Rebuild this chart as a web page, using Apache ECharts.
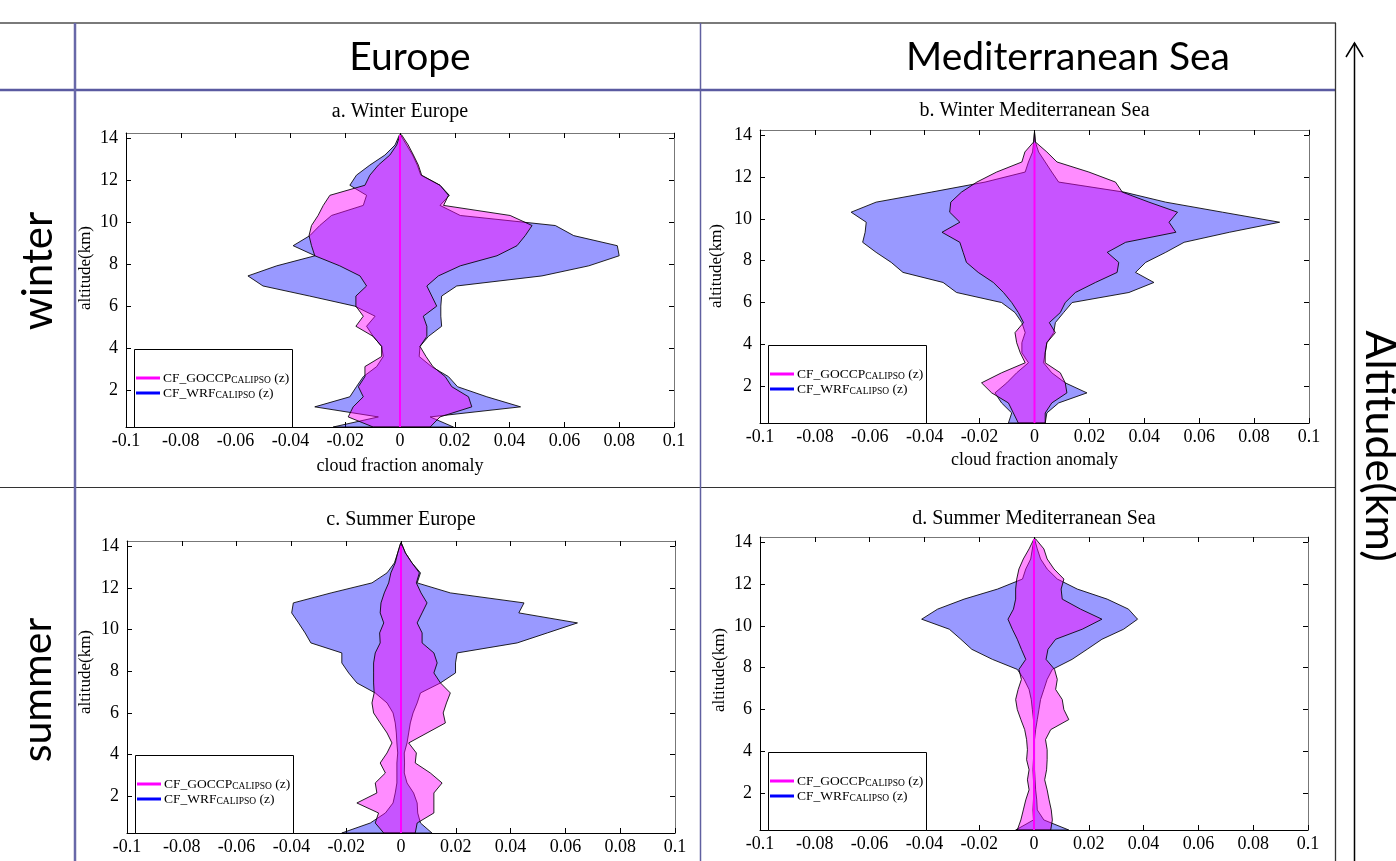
<!DOCTYPE html>
<html>
<head>
<meta charset="utf-8">
<script src="https://cdn.jsdelivr.net/npm/echarts@6/dist/echarts.min.js"></script>
<style>
html,body{margin:0;padding:0;background:#ffffff;}
#chart{width:1396px;height:861px;}
</style>
</head>
<body>
<div id="chart"></div>
<script>
// ---------- labels ----------
const columnHeaders = ['Europe', 'Mediterranean Sea'];
const rowHeaders = ['winter', 'summer'];
const sideLabel = 'Altitude(km)';
const panelTitles = ['a. Winter Europe', 'b. Winter Mediterranean Sea', 'c. Summer Europe', 'd. Summer Mediterranean Sea'];
const xAxisName = 'cloud fraction anomaly';
const yAxisName = 'altitude(km)';
const seriesNames = ['CF_GOCCP', 'CF_WRF'];
const yTickValues = [2, 4, 6, 8, 10, 12, 14];

// ---------- altitude levels (km), bottom to top ----------
const altitude = [0.24, 0.72, 1.20, 1.68, 2.16, 2.64, 3.12, 3.60, 4.08, 4.56, 5.04, 5.52, 6.00, 6.48, 6.96,
  7.44, 7.92, 8.40, 8.88, 9.36, 9.84, 10.32, 10.80, 11.28, 11.76, 12.24, 12.72, 13.20, 13.68, 14.16];

// ---------- a. Winter Europe ----------
const aWrfLeft = [-0.0244, -0.0079, -0.0311, -0.0183, -0.0159, -0.0134, -0.0085, -0.0061, -0.0067, -0.0098, -0.0122, -0.0091, -0.0165, -0.033, -0.05,
  -0.0555, -0.045, -0.031, -0.039, -0.0329, -0.0293, -0.025, -0.0134, -0.0122, -0.0183, -0.0159, -0.011, -0.0055, -0.0018, -0.0002];
const aWrfRight = [0.0195, 0.011, 0.044, 0.0317, 0.021, 0.0177, 0.0115, 0.007, 0.0073, 0.0104, 0.0152, 0.0149, 0.0149, 0.0152, 0.0207,
  0.0518, 0.0689, 0.080, 0.0793, 0.0634, 0.0567, 0.022, 0.0146, 0.018, 0.0146, 0.0076, 0.0063, 0.0046, 0.0024, 0.0002];
const aGoccpLeft = [-0.0098, -0.0189, -0.0171, -0.0134, -0.0152, -0.0128, -0.0128, -0.0067, -0.0067, -0.0098, -0.0161, -0.0134, -0.0161, -0.0161, -0.0122,
  -0.0146, -0.022, -0.0311, -0.0323, -0.0332, -0.0323, -0.0299, -0.028, -0.0256, -0.0128, -0.011, -0.0079, -0.0037, -0.0012, 0];
const aGoccpRight = [0.011, 0.0146, 0.0262, 0.025, 0.0189, 0.0165, 0.012, 0.0095, 0.0073, 0.0098, 0.0098, 0.0085, 0.0134, 0.0116, 0.0098,
  0.014, 0.022, 0.0354, 0.0427, 0.0457, 0.0482, 0.0402, 0.0159, 0.0177, 0.0146, 0.0079, 0.0067, 0.0049, 0.003, 0.0006];

// ---------- b. Winter Mediterranean Sea ----------
const bWrfLeft = [-0.0095, -0.0083, -0.012, -0.0144, -0.0101, -0.0065, -0.0022, -0.0046, -0.0046, -0.0034, -0.0046, -0.0071, -0.012, -0.0284, -0.0333,
  -0.0479, -0.0522, -0.0577, -0.0626, -0.0617, -0.0613, -0.0668, -0.0577, -0.0376, -0.018, -0.0034, -0.0022, -0.0007, -0.0003, 0];
const bWrfRight = [0.0039, 0.0045, 0.0088, 0.0191, 0.0112, 0.0063, 0.0033, 0.0039, 0.0045, 0.007, 0.0076, 0.0106, 0.0137, 0.0344, 0.0435,
  0.0368, 0.0405, 0.0478, 0.0545, 0.071, 0.0893, 0.0685, 0.0478, 0.0326, 0.0088, 0.0063, 0.0039, 0.0015, 0.0003, 0];
const bGoccpLeft = [-0.0059, -0.0077, -0.0095, -0.0156, -0.0193, -0.012, -0.0034, -0.0052, -0.0065, -0.0071, -0.004, -0.0059, -0.0083, -0.0113, -0.015,
  -0.0205, -0.0248, -0.026, -0.0272, -0.0337, -0.0272, -0.0309, -0.0305, -0.0266, -0.021, -0.0138, -0.0046, -0.0035, -0.0003, 0];
const bGoccpRight = [0.0039, 0.0039, 0.0063, 0.0118, 0.0112, 0.0094, 0.0039, 0.0039, 0.0045, 0.0076, 0.0054, 0.0094, 0.0112, 0.0149, 0.0222,
  0.0301, 0.0307, 0.0265, 0.0332, 0.0515, 0.049, 0.0521, 0.0417, 0.032, 0.0295, 0.0198, 0.0082, 0.0045, 0.0003, 0];

// ---------- c. Summer Europe ----------
const cWrfLeft = [-0.0216, -0.0112, -0.0057, -0.0029, -0.0021, -0.0015, -0.0015, -0.0015, -0.0012, -0.0015, -0.0017, -0.0021, -0.0029, -0.0051, -0.0094,
  -0.0161, -0.0191, -0.0216, -0.0216, -0.0329, -0.035, -0.0374, -0.0399, -0.0393, -0.0255, -0.0106, -0.0051, -0.0024, -0.0012, -0.0001];
const cWrfRight = [0.0113, 0.0071, 0.0061, 0.0059, 0.0046, 0.0022, 0.0012, 0.0013, 0.0012, 0.0022, 0.0028, 0.0034, 0.0044, 0.0059, 0.0071,
  0.0144, 0.0199, 0.0199, 0.0205, 0.0424, 0.0534, 0.0644, 0.043, 0.0449, 0.018, 0.0059, 0.0071, 0.004, 0.0016, 0.0001];
const cGoccpLeft = [-0.0063, -0.0094, -0.0082, -0.0161, -0.0088, -0.0094, -0.0057, -0.0076, -0.0051, -0.0033, -0.0051, -0.0076, -0.01, -0.0106, -0.0098,
  -0.01, -0.01, -0.01, -0.0094, -0.0076, -0.0078, -0.0063, -0.0076, -0.0073, -0.0061, -0.0045, -0.0037, -0.0021, -0.0012, -0.0001];
const cGoccpRight = [0.0052, 0.0059, 0.012, 0.012, 0.012, 0.015, 0.0107, 0.0052, 0.0056, 0.0028, 0.0095, 0.0162, 0.0154, 0.0166, 0.018,
  0.0144, 0.012, 0.0132, 0.012, 0.0077, 0.0077, 0.0059, 0.0077, 0.0095, 0.0073, 0.0056, 0.0067, 0.004, 0.0016, 0.0001];

// ---------- d. Summer Mediterranean Sea ----------
const dWrfLeft = [-0.0067, -0.0002, -0.0004, -0.0002, 0, -0.0002, -0.0004, -0.0002, 0, 0, 0, -0.0002, -0.0006, -0.001, -0.0018,
  -0.0036, -0.0061, -0.0152, -0.0227, -0.0267, -0.0309, -0.041, -0.0352, -0.0255, -0.0133, -0.0042, -0.003, -0.0012, -0.0006, 0];
const dWrfRight = [0.0127, 0.0036, 0.0012, 0.001, 0.0006, 0.0004, 0.0002, 0.0002, 0.0002, 0.0002, 0.0006, 0.0012, 0.0018, 0.0024, 0.0036,
  0.0048, 0.0067, 0.0139, 0.0194, 0.0248, 0.0327, 0.0378, 0.0345, 0.0267, 0.0158, 0.0085, 0.0048, 0.0024, 0.0012, 0.0002];
const dGoccpLeft = [-0.0061, -0.0048, -0.0039, -0.003, -0.0018, -0.0024, -0.0018, -0.0027, -0.0024, -0.0027, -0.0034, -0.0048, -0.0061, -0.0067, -0.0058,
  -0.0046, -0.0055, -0.003, -0.0046, -0.0061, -0.0079, -0.0095, -0.0075, -0.0067, -0.0067, -0.0063, -0.0055, -0.0039, -0.0018, 0];
const dGoccpRight = [0.0061, 0.0067, 0.0063, 0.0055, 0.0048, 0.0039, 0.0046, 0.0048, 0.0048, 0.0042, 0.0061, 0.0127, 0.0109, 0.0103, 0.0079,
  0.0085, 0.0075, 0.0044, 0.0051, 0.0079, 0.0176, 0.0248, 0.017, 0.0103, 0.0099, 0.0109, 0.0073, 0.0048, 0.0036, 0.0006];

// top of the magenta zero line in each panel (km)
const zeroLineTop = [14.16, 13.6, 14.0, 14.16];

const panelData = [
  { wrfL: aWrfLeft, wrfR: aWrfRight, gocL: aGoccpLeft, gocR: aGoccpRight },
  { wrfL: bWrfLeft, wrfR: bWrfRight, gocL: bGoccpLeft, gocR: bGoccpRight },
  { wrfL: cWrfLeft, wrfR: cWrfRight, gocL: cGoccpLeft, gocR: cGoccpRight },
  { wrfL: dWrfLeft, wrfR: dWrfRight, gocL: dGoccpLeft, gocR: dGoccpRight }
];

// ---------- layout ----------
const grids = [
  { left: 126, top: 133, width: 548, height: 294 },
  { left: 760, top: 130, width: 549, height: 293 },
  { left: 127, top: 541, width: 548, height: 292 },
  { left: 760, top: 537, width: 548, height: 293 }
];
const yNamePos = [[86, 268], [717, 266], [86, 672], [720, 670]];
const titleTop = [102, 101, 510, 509];
const serif = 'Liberation Serif';

const chart = echarts.init(document.getElementById('chart'), null, { renderer: 'canvas' });

const xAxes = [], yAxes = [], series = [], legends = [], titles = [], graphics = [];

function polygonSeries(name, k, left, right, fill, z) {
  const pts = [];
  for (let i = 0; i < altitude.length; i++) pts.push([right[i], altitude[i]]);
  for (let i = altitude.length - 1; i >= 0; i--) pts.push([left[i], altitude[i]]);
  return {
    type: 'custom', name: name, xAxisIndex: 2 * k, yAxisIndex: 2 * k, silent: true, z: z,
    data: pts, encode: { x: 0, y: 1 },
    renderItem: function (params, api) {
      if (params.dataIndex !== 0) return null;
      return {
        type: 'polygon',
        shape: { points: pts.map(function (p) { return api.coord(p); }) },
        style: { fill: fill, stroke: 'rgba(0,0,0,0.85)', lineWidth: 1, lineJoin: 'miter' }
      };
    }
  };
}

grids.forEach(function (g, k) {
  const showXName = k < 2;
  xAxes.push({
    gridIndex: k, type: 'value', position: 'bottom', min: -0.1, max: 0.1, interval: 0.02,
    axisLine: { onZero: false, lineStyle: { color: '#000', width: 1 } },
    axisTick: { inside: true, length: 5, lineStyle: { color: '#000', width: 1 } },
    axisLabel: { fontFamily: serif, fontSize: 18, color: '#000', margin: 5, showMinLabel: true, showMaxLabel: true },
    splitLine: { show: false },
    name: showXName ? xAxisName : '', nameLocation: 'middle', nameGap: k === 0 ? 30 : 28,
    nameTextStyle: { fontFamily: serif, fontSize: 18, color: '#000' }
  });
  xAxes.push({
    gridIndex: k, type: 'value', position: 'top', min: -0.1, max: 0.1, interval: 0.02,
    axisLine: { onZero: false, lineStyle: { color: '#777', width: 1 } },
    axisTick: { inside: true, length: 5, lineStyle: { color: '#000', width: 1 } },
    axisLabel: { show: false }, splitLine: { show: false }
  });
  yAxes.push({
    gridIndex: k, type: 'value', position: 'left', min: 0.24, max: 14.25,
    axisLine: { onZero: false, lineStyle: { color: '#000', width: 1 } },
    axisTick: { inside: true, length: 5, customValues: yTickValues, lineStyle: { color: '#000', width: 1 } },
    axisLabel: { customValues: yTickValues, fontFamily: serif, fontSize: 18, color: '#000', margin: 8 },
    splitLine: { show: false }
  });
  yAxes.push({
    gridIndex: k, type: 'value', position: 'right', min: 0.24, max: 14.25,
    axisLine: { onZero: false, lineStyle: { color: '#777', width: 1 } },
    axisTick: { inside: true, length: 5, customValues: yTickValues, lineStyle: { color: '#000', width: 1 } },
    axisLabel: { show: false }, splitLine: { show: false }
  });

  const d = panelData[k];
  series.push(polygonSeries(seriesNames[1], k, d.wrfL, d.wrfR, 'rgba(0,0,255,0.4)', 2));
  series.push(polygonSeries(seriesNames[0], k, d.gocL, d.gocR, 'rgba(255,0,255,0.45)', 3));
  series.push({
    type: 'line', name: 'zero', xAxisIndex: 2 * k, yAxisIndex: 2 * k, silent: true, z: 4,
    symbol: 'none', data: [[0, altitude[0]], [0, zeroLineTop[k]]],
    lineStyle: { color: '#ff00ff', width: 2 }, animation: false
  });

  titles.push({
    text: panelTitles[k], left: g.left + g.width / 2, top: titleTop[k], textAlign: 'center', padding: 0,
    textStyle: { fontFamily: serif, fontSize: 20, fontWeight: 'normal', color: '#000' }
  });

  const boxLeft = g.left + 8, boxTop = g.top + g.height - 78;
  graphics.push({
    type: 'rect', z: 10,
    shape: { x: boxLeft + 0.5, y: boxTop + 0.5, width: 158, height: 78 },
    style: { fill: '#ffffff', stroke: '#000', lineWidth: 1 }
  });
  legends.push({
    orient: 'vertical', left: boxLeft + 2, top: boxTop + 22, padding: 0, itemGap: 1,
    itemWidth: 24, itemHeight: 3, selectedMode: false, z: 20,
    data: [
      { name: seriesNames[0], icon: 'rect', itemStyle: { color: '#ff00ff' } },
      { name: seriesNames[1], icon: 'rect', itemStyle: { color: '#0000ff' } }
    ],
    formatter: function (name) { return '{m|' + name + '}{s|CALIPSO}{m| (z)}'; },
    textStyle: {
      fontFamily: serif, fontSize: 13, color: '#000', padding: [0, 0, 0, -2],
      rich: {
        m: { fontFamily: serif, fontSize: 13.5, lineHeight: 14, color: '#000', verticalAlign: 'bottom' },
        s: { fontFamily: serif, fontSize: 9.5, lineHeight: 11, color: '#000', verticalAlign: 'bottom' }
      }
    }
  });

  graphics.push({
    type: 'text', x: yNamePos[k][0], y: yNamePos[k][1], rotation: Math.PI / 2,
    style: { text: yAxisName, font: '17px "Liberation Serif"', fill: '#000',
      align: 'center', verticalAlign: 'middle', textAlign: 'center', textVerticalAlign: 'middle' }
  });
});

// ---------- table frame ----------
function hline(y, x1, x2, color, w) {
  graphics.push({ type: 'line', shape: { x1: x1, y1: y, x2: x2, y2: y }, style: { stroke: color, lineWidth: w } });
}
function vline(x, y1, y2, color, w) {
  graphics.push({ type: 'line', shape: { x1: x, y1: y1, x2: x, y2: y2 }, style: { stroke: color, lineWidth: w } });
}
hline(23, 0, 1336, '#7a7a7a', 2);
hline(90, 0, 1336, '#5a5aa0', 2.5);
hline(487.5, 0, 1336, '#333333', 1.2);
vline(75, 23, 861, '#6868a8', 2.5);
vline(700.5, 23, 861, '#6060a0', 1.5);
vline(1335.5, 23, 861, '#333333', 1.3);

function bigText(str, x, y, rot, size) {
  graphics.push({
    type: 'text', x: x, y: y, rotation: rot || 0,
    style: { text: str, font: size + 'px Lato', fill: '#000',
      align: 'center', verticalAlign: 'middle', textAlign: 'center', textVerticalAlign: 'middle' }
  });
}
bigText(columnHeaders[0], 410, 57, 0, 39);
bigText(columnHeaders[1], 1068, 57, 0, 39);
bigText(rowHeaders[0], 38, 271, Math.PI / 2, 42);
bigText(rowHeaders[1], 38, 690, Math.PI / 2, 41);
bigText(sideLabel, 1380, 446, -Math.PI / 2, 43);

// arrow
graphics.push({ type: 'line', shape: { x1: 1354.5, y1: 861, x2: 1354.5, y2: 43 }, style: { stroke: '#000', lineWidth: 1.5 } });
graphics.push({ type: 'polyline', shape: { points: [[1346, 57], [1354.5, 43], [1363, 57]] }, style: { stroke: '#000', lineWidth: 1.5, fill: null } });

chart.setOption({
  animation: false,
  backgroundColor: '#ffffff',
  title: titles,
  grid: grids,
  xAxis: xAxes,
  yAxis: yAxes,
  legend: legends,
  series: series,
  graphic: { elements: graphics }
});
</script>
</body>
</html>
